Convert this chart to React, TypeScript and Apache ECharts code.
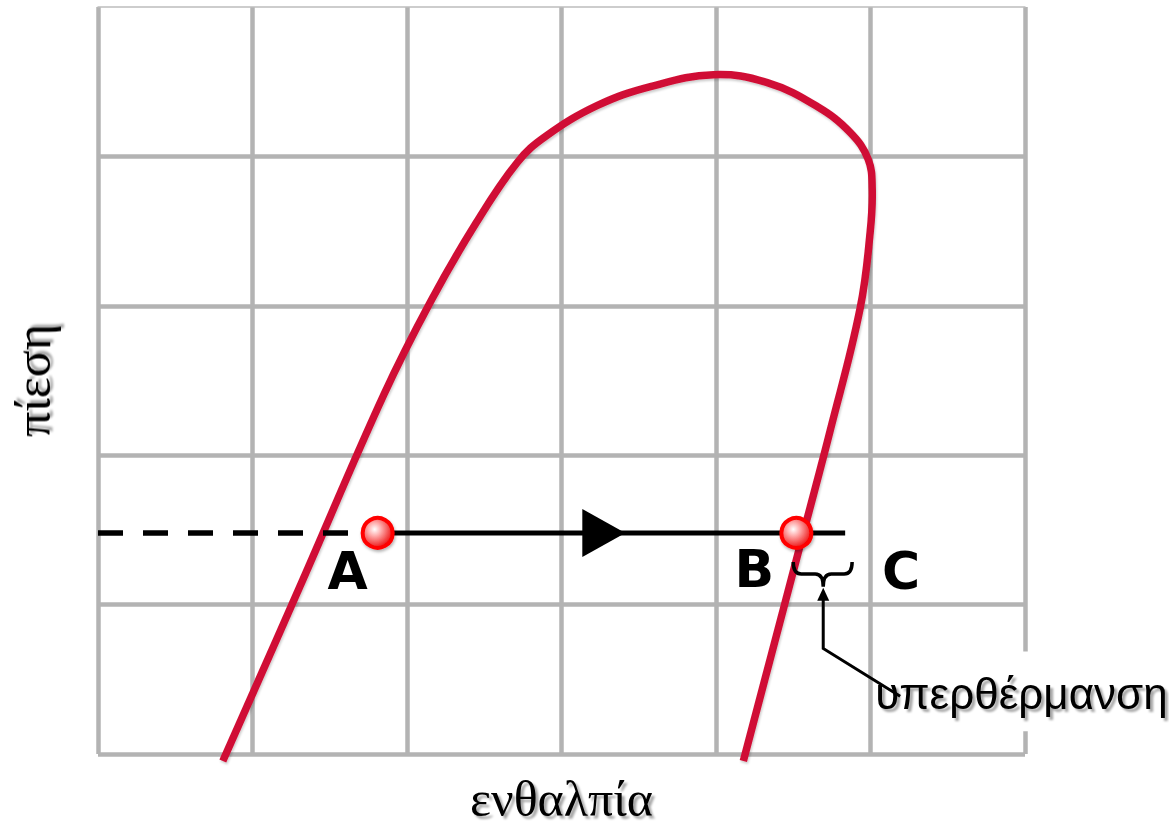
import React, { useEffect, useRef } from "react";
import * as echarts from "echarts";

// Saturation curve (enthalpy, pressure) in chart units
const curveX = [0.808, 1.306, 1.849, 2.153, 2.444, 2.715, 2.897, 3.233, 3.575, 3.983, 4.332, 4.655, 4.868, 4.985, 5.011, 4.998, 4.933, 4.739, 4.584, 4.177];
const curveY = [-0.047, 1.119, 2.403, 3.029, 3.549, 3.961, 4.134, 4.341, 4.467, 4.547, 4.494, 4.334, 4.161, 3.981, 3.782, 3.495, 2.983, 2.164, 1.551, -0.047];

const pressureLevel = 1.48;
const pointNames = ["A", "B"];
const pointX = [1.81, 4.52];
const lineEndX = 4.836;
const arrowX = 3.274;

const letterNames = ["A", "B", "C"];
const letterX = [1.616, 4.248, 5.198];
const letterY = [1.225, 1.24, 1.225];

const xAxisTitle = "ενθαλπία";
const yAxisTitle = "πίεση";
const noteText = "υπερθέρμανση";

export default function App() {
  const ref = useRef<HTMLDivElement>(null);
  useEffect(() => {
    if (!ref.current) return;
    const chart = echarts.init(ref.current, null, { renderer: "svg" });
    const gridColor = "#b3b3b3";
    const titleStyle = {
      fontFamily: "Liberation Serif",
      fontSize: 50,
      color: "#000",
      textShadowColor: "rgba(0,0,0,0.35)",
      textShadowOffsetX: 3,
      textShadowOffsetY: 3,
      textShadowBlur: 2,
    };
    const option: any = {
      animation: false,
      grid: { left: 97, right: 144, top: 7, bottom: 71 },
      xAxis: [
        {
          type: "value",
          min: 0,
          max: 6,
          interval: 1,
          axisLine: { show: false },
          axisTick: { show: false },
          axisLabel: { show: false },
          splitLine: { show: true, showMinLine: true, showMaxLine: true, lineStyle: { color: gridColor, width: 4.5 } },
          name: xAxisTitle,
          nameLocation: "middle",
          nameGap: 20,
          nameTextStyle: titleStyle,
        },
        {
          type: "value",
          position: "top",
          min: 0,
          max: 6,
          axisLine: { show: true, lineStyle: { color: "#bdbdbd", width: 1.5 } },
          axisTick: { show: false },
          axisLabel: { show: false },
          splitLine: { show: false },
        },
      ],
      yAxis: {
        type: "value",
        min: 0,
        max: 5,
        interval: 1,
        axisLine: { show: false },
        axisTick: { show: false },
        axisLabel: { show: false },
        splitLine: { show: true, showMinLine: true, showMaxLine: false, lineStyle: { color: gridColor, width: 4.5 } },
        name: yAxisTitle,
        nameLocation: "middle",
        nameGap: 40,
        nameTextStyle: titleStyle,
      },
      series: [
        {
          type: "custom",
          clip: false,
          z: 3,
          data: [[0]],
          renderItem: (params: any, api: any) => {
            const pts = curveX.map((x, i) => api.coord([x, curveY[i]]));
            return {
              type: "polyline",
              shape: { points: pts, smooth: 0.4 },
              style: {
                stroke: "#d01035",
                lineWidth: 7.5,
                fill: "none",
                shadowColor: "rgba(0,0,0,0.2)",
                shadowOffsetX: 1,
                shadowOffsetY: 2,
                shadowBlur: 2,
              },
            };
          },
        },
        {
          type: "line",
          data: [[0, pressureLevel], [pointX[0], pressureLevel]],
          symbol: "none",
          lineStyle: { color: "#000", width: 5.5, type: [25, 20] },
          z: 4,
        },
        {
          type: "line",
          data: [[pointX[0], pressureLevel], [lineEndX, pressureLevel]],
          symbol: "none",
          lineStyle: { color: "#000", width: 5 },
          z: 4,
        },
        {
          type: "scatter",
          data: [[arrowX, pressureLevel]],
          symbol: "triangle",
          symbolRotate: -90,
          symbolSize: [48, 43],
          itemStyle: { color: "#000", opacity: 1 },
          z: 5,
        },
        {
          type: "scatter",
          data: pointX.map((x, i) => ({ name: pointNames[i], value: [x, pressureLevel] })),
          symbolSize: 30,
          itemStyle: {
            opacity: 1,
            color: new echarts.graphic.RadialGradient(0.4, 0.38, 0.6, [
              { offset: 0, color: "#ffffff" },
              { offset: 0.35, color: "#ffb0b0" },
              { offset: 1, color: "#ee1c1c" },
            ]),
            borderColor: "#ff0000",
            borderWidth: 4,
            shadowColor: "rgba(0,0,0,0.3)",
            shadowBlur: 3,
            shadowOffsetX: 1,
            shadowOffsetY: 2,
          },
          z: 6,
        },
        {
          type: "custom",
          clip: false,
          z: 7,
          data: [[0]],
          renderItem: (params: any, api: any) => {
            const children: any[] = [];
            letterNames.forEach((t, i) => {
              const p = api.coord([letterX[i], letterY[i]]);
              children.push({
                type: "text",
                style: {
                  x: p[0],
                  y: p[1],
                  text: t,
                  font: "bold 52px 'DejaVu Sans'",
                  fill: "#000",
                  align: "center",
                  verticalAlign: "middle",
                },
              });
            });
            // brace
            const L = api.coord([4.5, 1.285]);
            const R = api.coord([4.881, 1.285]);
            const tipB = api.coord([4.694, 1.119]);
            const T = L[1];
            const Bm = tipB[1];
            const M = T + 12;
            const C = tipB[0];
            const d = `M${L[0]},${T} Q${L[0]},${M} ${L[0] + 8},${M} L${C - 8},${M} Q${C},${M} ${C},${Bm} Q${C},${M} ${C + 8},${M} L${R[0] - 8},${M} Q${R[0]},${M} ${R[0]},${T}`;
            children.push({
              type: "path",
              shape: { pathData: d },
              style: { stroke: "#000", lineWidth: 3.5, fill: "none" },
            });
            // note box
            const b1 = api.coord([5.017, 0.686]);
            const b2 = api.coord([6.93, 0.153]);
            children.push({
              type: "rect",
              shape: { x: b1[0], y: b1[1], width: b2[0] - b1[0], height: b2[1] - b1[1] },
              style: { fill: "#fff" },
            });
            // leader
            const p1 = api.coord([4.694, 0.706]);
            const p2 = api.coord([5.192, 0.386]);
            children.push({
              type: "polyline",
              shape: { points: [[C, Bm + 8], [p1[0], p1[1]], [p2[0], p2[1]]] },
              style: { stroke: "#000", lineWidth: 3, fill: "none" },
            });
            children.push({
              type: "polygon",
              shape: { points: [[C, Bm + 1], [C - 6, Bm + 14], [C + 6, Bm + 14]] },
              style: { fill: "#000" },
            });
            const tp = api.coord([5.03, 0.406]);
            children.push({
              type: "text",
              style: {
                x: tp[0],
                y: tp[1],
                text: noteText,
                font: "44px 'Liberation Sans'",
                fill: "#000",
                align: "left",
                verticalAlign: "middle",
                textShadowColor: "rgba(0,0,0,0.35)",
                textShadowOffsetX: 3,
                textShadowOffsetY: 3,
                textShadowBlur: 2,
              },
            });
            return { type: "group", children };
          },
        },
      ],
    };
    chart.setOption(option);
    return () => chart.dispose();
  }, []);
  return <div ref={ref} style={{ position: "fixed", left: 0, top: 0, width: 1169, height: 829 }} />;
}
